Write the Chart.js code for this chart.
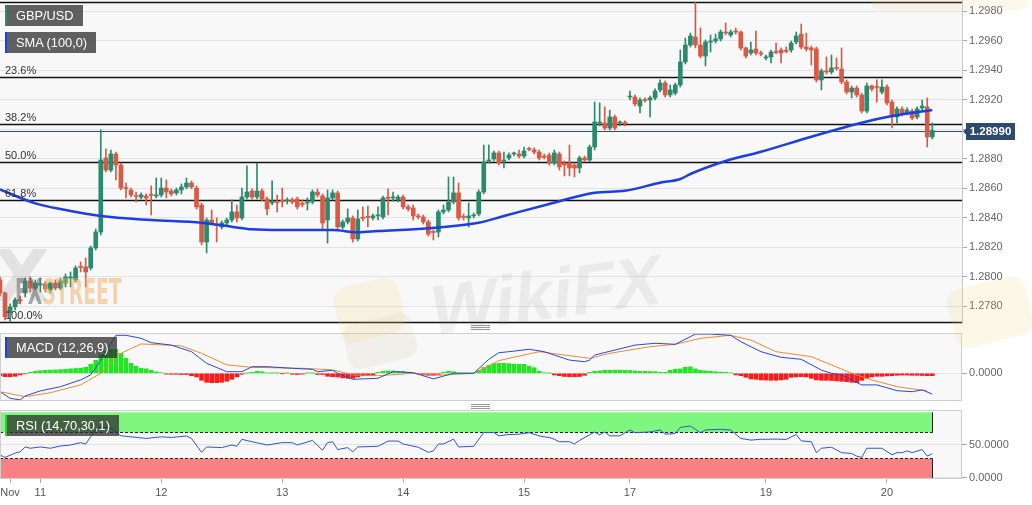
<!DOCTYPE html>
<html>
<head>
<meta charset="utf-8">
<script src="https://cdn.jsdelivr.net/npm/chart.js@4.4.1/dist/chart.umd.min.js"></script>
<style>
  html, body { margin: 0; padding: 0; background: #fff; }
  body { width: 1032px; height: 505px; position: relative; overflow: hidden; font-family: 'Liberation Sans', Arial, sans-serif; }
  .pane { position: absolute; left: 0; width: 1032px; }
  .tag { position: absolute; left: 5px; height: 21px; line-height: 21px; padding: 0 9px 0 9px; color: #fff; font-size: 12.8px;
         background: rgba(45,45,45,0.75); border-left: 2px solid; white-space: nowrap; }
  .grip { position: absolute; left: 471px; width: 19px; height: 5px;
          background: repeating-linear-gradient(#999 0 1px, transparent 1px 2px); }
  .wm { position: absolute; pointer-events: none; white-space: nowrap; }
</style>
</head>
<body>
<div class="pane" style="top:0;height:324px"><canvas id="main"></canvas></div>
<div class="pane" style="top:333px;height:68px"><canvas id="macd"></canvas></div>
<div class="pane" style="top:410px;height:95px"><canvas id="rsi"></canvas></div>

<div class="grip" style="top:325px"></div>
<div class="grip" style="top:404px"></div>

<!-- watermarks -->
<div class="wm" style="left:-6px;top:234px;font:bold 72px 'DejaVu Sans';color:rgba(140,140,140,0.2)">X</div>
<div class="wm" style="left:15px;top:271px;font:bold 36px 'DejaVu Sans Condensed';transform:scaleX(0.58);transform-origin:left top">
  <span style="color:rgba(100,100,100,0.55)">FX</span><span style="color:rgba(240,170,90,0.48)">STREET</span></div>
<div class="wm" style="left:336px;top:282px;width:66px;height:56px;border-radius:14px;background:rgba(240,205,110,0.16);transform:rotate(-14deg)"></div>
<div class="wm" style="left:428px;top:272px;font:bold 70px 'Liberation Sans';color:rgba(130,130,130,0.11);transform:rotate(-8deg) skewX(-12deg);transform-origin:left bottom">WikiFX</div>
<div class="wm" style="left:345px;top:318px;width:70px;height:46px;border-radius:12px;background:rgba(200,180,140,0.12);transform:rotate(-14deg)"></div>
<div class="wm" style="left:950px;top:282px;width:80px;height:60px;border-radius:14px;background:rgba(240,205,110,0.16);transform:rotate(-14deg)"></div>
<div class="wm" style="left:870px;top:-24px;width:160px;height:34px;border-radius:12px;background:rgba(240,205,110,0.14)"></div>

<div class="tag" style="top:5px;border-left-color:#2b8a6c">GBP/USD</div>
<div class="tag" style="top:32px;border-left-color:#1b3fe0">SMA (100,0)</div>
<div class="tag" style="top:337px;border-left-color:#1b3fe0">MACD (12,26,9)</div>
<div class="tag" style="top:415px;border-left-color:#33cc33">RSI (14,70,30,1)</div>

<script>
// ---- hourly GBP/USD candles, Nov 10 evening .. Nov 20 morning ----
const opens = [
  1.27977, 1.27889, 1.27753, 1.27794, 1.27841, 1.27889, 1.27970, 1.27922, 1.27943, 1.27950,
  1.27909, 1.27956, 1.27922, 1.27956, 1.27990, 1.27977, 1.28065, 1.28065, 1.28058, 1.28194,
  1.28302, 1.28804, 1.28722, 1.28831, 1.28756, 1.28600, 1.28587, 1.28546, 1.28539, 1.28546,
  1.28553, 1.28546, 1.28553, 1.28600, 1.28580, 1.28567, 1.28587, 1.28607, 1.28634, 1.28600,
  1.28485, 1.28234, 1.28383, 1.28350, 1.28336, 1.28363, 1.28383, 1.28438, 1.28397, 1.28539,
  1.28580, 1.28539, 1.28580, 1.28526, 1.28499, 1.28505, 1.28512, 1.28512, 1.28519, 1.28526,
  1.28492, 1.28499, 1.28505, 1.28573, 1.28546, 1.28383, 1.28533, 1.28567, 1.28336, 1.28370,
  1.28397, 1.28255, 1.28397, 1.28404, 1.28397, 1.28411, 1.28404, 1.28533, 1.28533, 1.28519,
  1.28539, 1.28472, 1.28465, 1.28411, 1.28404, 1.28370, 1.28302, 1.28302, 1.28438, 1.28451,
  1.28505, 1.28567, 1.28404, 1.28397, 1.28411, 1.28424, 1.28573, 1.28783, 1.28797, 1.28838,
  1.28783, 1.28804, 1.28831, 1.28831, 1.28817, 1.28865, 1.28858, 1.28844, 1.28811, 1.28824,
  1.28770, 1.28831, 1.28770, 1.28770, 1.28756, 1.28736, 1.28804, 1.28790, 1.28878, 1.29041,
  1.29041, 1.29007, 1.29082, 1.29041, 1.29041, 1.29217, 1.29217, 1.29156, 1.29197, 1.29197,
  1.29211, 1.29265, 1.29312, 1.29231, 1.29244, 1.29299, 1.29455, 1.29570, 1.29624, 1.29570,
  1.29495, 1.29590, 1.29597, 1.29611, 1.29658, 1.29638, 1.29665, 1.29658, 1.29550, 1.29516,
  1.29543, 1.29516, 1.29482, 1.29489, 1.29522, 1.29536, 1.29529, 1.29536, 1.29590, 1.29644,
  1.29556, 1.29550, 1.29543, 1.29333, 1.29394, 1.29387, 1.29414, 1.29407, 1.29319, 1.29251,
  1.29278, 1.29231, 1.29122, 1.29292, 1.29285, 1.29251, 1.29285, 1.29183, 1.29082, 1.29136,
  1.29109, 1.29122, 1.29082, 1.29143, 1.29150, 1.28946
];
const highs = [
  1.27997, 1.27895, 1.27814, 1.27855, 1.27868, 1.27990, 1.27997, 1.27977, 1.27990, 1.27963,
  1.27963, 1.27977, 1.27990, 1.28017, 1.28031, 1.28072, 1.28099, 1.28126, 1.28207, 1.28322,
  1.28994, 1.28865, 1.28858, 1.28844, 1.28770, 1.28634, 1.28600, 1.28573, 1.28567, 1.28560,
  1.28614, 1.28668, 1.28668, 1.28655, 1.28594, 1.28600, 1.28628, 1.28668, 1.28648, 1.28614,
  1.28499, 1.28397, 1.28451, 1.28397, 1.28377, 1.28397, 1.28519, 1.28485, 1.28600, 1.28750,
  1.28594, 1.28770, 1.28594, 1.28539, 1.28648, 1.28553, 1.28600, 1.28533, 1.28533, 1.28539,
  1.28519, 1.28533, 1.28587, 1.28594, 1.28560, 1.28587, 1.28587, 1.28580, 1.28383, 1.28458,
  1.28411, 1.28451, 1.28472, 1.28478, 1.28424, 1.28472, 1.28546, 1.28594, 1.28573, 1.28553,
  1.28553, 1.28485, 1.28485, 1.28424, 1.28417, 1.28383, 1.28316, 1.28451, 1.28485, 1.28675,
  1.28675, 1.28634, 1.28424, 1.28499, 1.28431, 1.28587, 1.28892, 1.28892, 1.28851, 1.28851,
  1.28844, 1.28838, 1.28844, 1.28858, 1.28878, 1.28878, 1.28872, 1.28858, 1.28831, 1.28838,
  1.28858, 1.28844, 1.28783, 1.28892, 1.28770, 1.28817, 1.28817, 1.28892, 1.29183, 1.29177,
  1.29150, 1.29129, 1.29095, 1.29055, 1.29055, 1.29258, 1.29231, 1.29211, 1.29211, 1.29224,
  1.29272, 1.29333, 1.29326, 1.29299, 1.29312, 1.29536, 1.29617, 1.29651, 1.29861, 1.29685,
  1.29604, 1.29638, 1.29644, 1.29672, 1.29719, 1.29672, 1.29685, 1.29665, 1.29556, 1.29590,
  1.29665, 1.29529, 1.29502, 1.29536, 1.29583, 1.29550, 1.29556, 1.29597, 1.29658, 1.29712,
  1.29651, 1.29563, 1.29556, 1.29407, 1.29489, 1.29502, 1.29482, 1.29550, 1.29333, 1.29292,
  1.29292, 1.29244, 1.29312, 1.29299, 1.29333, 1.29333, 1.29299, 1.29197, 1.29150, 1.29150,
  1.29143, 1.29136, 1.29150, 1.29197, 1.29211, 1.29041
];
const lows = [
  1.27868, 1.27705, 1.27692, 1.27773, 1.27814, 1.27861, 1.27895, 1.27909, 1.27895, 1.27895,
  1.27889, 1.27909, 1.27909, 1.27929, 1.27929, 1.27963, 1.28031, 1.27929, 1.28044, 1.28180,
  1.28282, 1.28709, 1.28709, 1.28655, 1.28587, 1.28533, 1.28539, 1.28505, 1.28526, 1.28485,
  1.28417, 1.28533, 1.28539, 1.28533, 1.28546, 1.28553, 1.28560, 1.28594, 1.28594, 1.28458,
  1.28214, 1.28160, 1.28350, 1.28234, 1.28322, 1.28350, 1.28370, 1.28370, 1.28383, 1.28526,
  1.28526, 1.28526, 1.28512, 1.28417, 1.28485, 1.28438, 1.28472, 1.28492, 1.28492, 1.28458,
  1.28472, 1.28451, 1.28492, 1.28539, 1.28322, 1.28227, 1.28519, 1.28322, 1.28322, 1.28356,
  1.28234, 1.28241, 1.28377, 1.28336, 1.28383, 1.28383, 1.28390, 1.28417, 1.28512, 1.28505,
  1.28458, 1.28444, 1.28383, 1.28390, 1.28356, 1.28275, 1.28248, 1.28268, 1.28424, 1.28438,
  1.28492, 1.28383, 1.28383, 1.28336, 1.28397, 1.28411, 1.28560, 1.28770, 1.28783, 1.28756,
  1.28736, 1.28790, 1.28817, 1.28804, 1.28804, 1.28851, 1.28831, 1.28790, 1.28797, 1.28756,
  1.28756, 1.28722, 1.28682, 1.28682, 1.28675, 1.28702, 1.28777, 1.28777, 1.28858, 1.29021,
  1.28994, 1.28994, 1.28994, 1.29021, 1.29021, 1.29197, 1.29156, 1.29109, 1.29183, 1.29082,
  1.29197, 1.29251, 1.29217, 1.29217, 1.29231, 1.29285, 1.29441, 1.29556, 1.29550, 1.29482,
  1.29428, 1.29522, 1.29583, 1.29597, 1.29638, 1.29624, 1.29644, 1.29536, 1.29482, 1.29502,
  1.29502, 1.29495, 1.29468, 1.29448, 1.29509, 1.29448, 1.29516, 1.29522, 1.29577, 1.29543,
  1.29529, 1.29434, 1.29319, 1.29265, 1.29373, 1.29373, 1.29400, 1.29306, 1.29238, 1.29211,
  1.29217, 1.29109, 1.29109, 1.29258, 1.29183, 1.29238, 1.29163, 1.29007, 1.29041, 1.29089,
  1.29095, 1.29061, 1.29068, 1.29129, 1.28878, 1.28933
];
const closes = [
  1.27889, 1.27726, 1.27794, 1.27841, 1.27836, 1.27970, 1.27922, 1.27956, 1.27947, 1.27916,
  1.27956, 1.27922, 1.27970, 1.27997, 1.27994, 1.28058, 1.28062, 1.28031, 1.28194, 1.28302,
  1.28790, 1.28722, 1.28831, 1.28756, 1.28600, 1.28596, 1.28553, 1.28543, 1.28553, 1.28533,
  1.28550, 1.28549, 1.28600, 1.28573, 1.28560, 1.28587, 1.28607, 1.28634, 1.28607, 1.28472,
  1.28234, 1.28383, 1.28363, 1.28346, 1.28363, 1.28383, 1.28438, 1.28397, 1.28539, 1.28573,
  1.28539, 1.28580, 1.28526, 1.28458, 1.28512, 1.28502, 1.28509, 1.28515, 1.28505, 1.28472,
  1.28489, 1.28502, 1.28573, 1.28553, 1.28363, 1.28533, 1.28567, 1.28336, 1.28370, 1.28397,
  1.28255, 1.28390, 1.28394, 1.28401, 1.28411, 1.28414, 1.28533, 1.28530, 1.28536, 1.28539,
  1.28472, 1.28458, 1.28411, 1.28404, 1.28370, 1.28288, 1.28299, 1.28438, 1.28451, 1.28505,
  1.28567, 1.28397, 1.28401, 1.28411, 1.28417, 1.28573, 1.28777, 1.28790, 1.28838, 1.28770,
  1.28786, 1.28824, 1.28834, 1.28817, 1.28851, 1.28862, 1.28844, 1.28804, 1.28808, 1.28770,
  1.28838, 1.28743, 1.28756, 1.28736, 1.28736, 1.28804, 1.28790, 1.28878, 1.29048, 1.29044,
  1.29007, 1.29082, 1.29007, 1.29044, 1.29038, 1.29220, 1.29170, 1.29197, 1.29194, 1.29211,
  1.29258, 1.29312, 1.29231, 1.29265, 1.29299, 1.29455, 1.29570, 1.29631, 1.29570, 1.29495,
  1.29590, 1.29593, 1.29611, 1.29658, 1.29651, 1.29658, 1.29658, 1.29550, 1.29495, 1.29536,
  1.29516, 1.29509, 1.29489, 1.29522, 1.29519, 1.29516, 1.29526, 1.29583, 1.29631, 1.29556,
  1.29543, 1.29536, 1.29333, 1.29394, 1.29387, 1.29414, 1.29411, 1.29319, 1.29251, 1.29278,
  1.29231, 1.29122, 1.29292, 1.29272, 1.29282, 1.29285, 1.29177, 1.29082, 1.29136, 1.29109,
  1.29129, 1.29075, 1.29136, 1.29156, 1.28946, 1.28990
];

// SMA(100) read at a few candle positions
const smaIdx = [0, 7, 13, 20, 30, 40, 46, 50, 56, 66, 71, 75, 85, 95, 100, 109, 118, 124, 131, 135, 137, 144, 151, 161, 171, 177, 181, 185];
const smaVal = [1.28591, 1.28496, 1.28451, 1.28410, 1.28383, 1.28365, 1.28338, 1.28320, 1.28315, 1.28315, 1.28300, 1.28308, 1.28327, 1.28365,
                1.28410, 1.28492, 1.28568, 1.28582, 1.28636, 1.28661, 1.28695, 1.28783, 1.28846, 1.28948, 1.29043, 1.29088, 1.29110, 1.29129];

// Fibonacci retracement levels
const fibLabels = ['0.0%', '23.6%', '38.2%', '50.0%', '61.8%', '100.0%'];
const fibPrices = [1.29861, 1.29353, 1.29034, 1.28776, 1.28519, 1.27692];
const lastPrice = 1.28990;
const priceTicks = [1.2780, 1.2800, 1.2820, 1.2840, 1.2860, 1.2880, 1.2900, 1.2920, 1.2940, 1.2960, 1.2980];

// MACD (12,26,9), values in pips (1e-4)
const macdIdx = [0, 2, 4, 5, 8, 12, 16, 18, 20, 22, 23, 25, 28, 30, 34, 38, 41, 45, 48, 50, 53, 58, 62, 63, 66, 67, 70, 75, 78, 82, 86,
                 90, 94, 97, 99, 101, 105, 108, 113, 116, 117, 118, 121, 126, 130, 134, 138, 141, 145, 147, 151, 155, 159, 163, 165, 167,
                 171, 174, 178, 181, 183, 185];
const macdVal = [-9.2, -12.5, -13.3, -11.3, -8.8, -6.7, -3.3, -0.8, 6.6, 15, 19, 19, 17.5, 15.3, 14.1, 10.8, 5, 0.8, 0.8, 3.3, 3.3, 2.5, 2,
                 0.8, 1.5, 0, -3, -2.5, 0.8, 0.3, -2.8, 0, 0, 7, 10.3, 10.8, 12, 10.8, 6.6, 5.8, 6.6, 9.1, 11, 14.1, 15, 14.5, 19.6, 19.6,
                 19, 15.8, 10.8, 8, 7, 1.6, 0, -0.8, -5.8, -5.8, -8.7, -9.2, -8.3, -10.4];
const signalIdx = [0, 5, 10, 16, 20, 24, 28, 36, 40, 45, 50, 60, 66, 70, 75, 82, 87, 94, 99, 101, 107, 117, 121, 129, 134, 139, 145, 149,
                   154, 161, 165, 169, 173, 178, 184];
const signalVal = [-9.2, -11.7, -9.7, -5.8, 0, 10, 14.7, 13.7, 10, 4.2, 3, 2.5, 1.7, -0.8, -1.2, 0, -1, 0, 6.3, 7.5, 10.8, 7.5, 10, 13.3,
                   14.5, 17.5, 19, 16.6, 10.8, 8.3, 4.2, 0, -3.3, -6.7, -8.8];
const histVal = [
  -1.2, -1.7, -1.7, -1.5, -0.8, -0.3, 0.5, 1.0, 1.3, 1.5,
  1.6, 1.7, 1.8, 2.0, 2.2, 2.4, 2.6, 3.0, 4.5, 6.5,
  9.5, 11.0, 12.0, 12.0, 10.0, 7.5, 5.0, 3.5, 2.5, 2.2,
  1.5, 0.7, 0.3, -0.4, -0.5, -0.5, -0.6, -0.6, -1.2, -1.8,
  -3.5, -4.5, -4.7, -4.7, -4.5, -4.0, -3.0, -1.8, -0.5, 0.1,
  0.5, 1.0, 0.8, 0.2, 0.1, 0.1, -0.1, 0.1, -0.5, -0.6,
  -0.4, 0.1, 0.1, -0.6, -0.6, -1.5, -1.7, -1.8, -2.3, -2.5,
  -2.5, -1.8, -1.2, -1.2, -1.0, 0.5, 1.0, 1.2, 1.2, 1.0,
  1.0, 0.6, 0.1, -0.2, -0.8, -1.0, -1.0, -0.5, 0.6, 1.0,
  0.8, 0.2, 0.1, 0.1, 0.2, 1.5, 3.0, 4.0, 4.8, 5.0,
  5.0, 4.8, 4.6, 4.5, 4.5, 3.5, 2.8, 1.0, 0.3, 0.1,
  -0.8, -1.2, -1.6, -1.7, -1.7, -1.6, -1.0, 0.5, 1.0, 1.2,
  1.5, 1.5, 1.6, 1.6, 1.5, 1.4, 1.2, 1.0, 1.0, 0.9,
  0.8, 0.5, 0.5, 1.5, 2.0, 2.2, 3.0, 3.2, 2.2, 1.5,
  1.2, 1.0, 0.8, 0.6, 0.5, 0.3, -0.8, -1.2, -2.0, -2.8,
  -3.0, -3.3, -3.4, -3.5, -3.5, -3.3, -3.0, -2.0, -1.8, -1.7,
  -1.8, -2.5, -3.3, -3.5, -3.5, -3.6, -3.8, -4.0, -4.2, -4.5,
  -4.7, -3.5, -2.5, -1.8, -1.5, -1.5, -1.3, -1.2, -1.0, -0.9,
  -0.9, -1.0, -1.0, -1.1, -1.2, -1.2
];

// RSI (14)
const rsiIdx = [0, 1, 3, 4, 5, 6, 8, 10, 12, 14, 16, 17, 18, 19, 20, 22, 24, 26, 29, 32, 34, 37, 38, 40, 41, 44, 46, 47, 48, 50,
                53, 56, 58, 59, 62, 64, 65, 66, 67, 69, 70, 71, 75, 77, 79, 80, 83, 85, 86, 87, 88, 90, 91, 94, 96, 98, 99, 101, 103, 105,
                107, 108, 109, 110, 111, 113, 114, 115, 118, 119, 120, 121, 123, 125, 126, 129, 131, 132, 134, 135, 137, 139, 140, 143, 145,
                147, 149, 151, 154, 156, 158, 159, 161, 162, 163, 165, 167, 169, 170, 171, 172, 175, 177, 178, 179, 180, 181, 183, 184, 185];
const rsiVal = [34.7, 31, 37.6, 39.7, 47, 45, 47, 45, 48.5, 50, 53.6, 51.5, 62.7, 73, 78, 75.7, 64, 62.5, 60, 62.5,
                61.5, 63.7, 60, 38.8, 47, 46, 50, 48, 58.7, 55, 50, 53.6, 53.6, 50, 57, 42, 53.6, 55, 43, 46,
                39.5, 47, 48, 56, 56, 51.5, 46.6, 38.8, 41, 51.5, 51.5, 59, 47, 48, 69, 69, 64, 66, 66.5, 68.8,
                64, 62.5, 61.5, 58.8, 55, 55, 51.5, 57, 69.9, 65.5, 69.9, 64, 64, 73, 68.8, 70, 73, 66.5, 67.6, 77,
                79, 68.8, 73, 74, 73, 60, 57.5, 58.7, 59, 58.5, 66, 56.3, 55, 38.3, 45, 46.6, 38.3, 37, 33, 31,
                45, 45, 35, 38.3, 38.3, 41, 38.3, 43, 33, 36.5];
const rsiUpper = 70, rsiLower = 30;

// day ticks on the time axis
const dayTickIdx = [2, 8, 32, 56, 80, 104, 125, 152, 176];
const dayTickLabels = ['Nov', '11', '12', '13', '14', '15', '17', '19', '20'];

const X_MIN = 0, X_MAX = 190.9;
const UP = '#2b8a6c', DOWN = '#d85a45';
const PANEL_BG = '#f8f8f8';

Chart.defaults.font.family = "'Liberation Sans', Arial, sans-serif";
Chart.defaults.font.size = 11;
Chart.defaults.color = '#666';
Chart.defaults.animation = false;

function rightAxis(min, max, ticks, fmt) {
    return {
        position: 'right', min: min, max: max,
        afterBuildTicks: s => { s.ticks = ticks.map(v => ({ value: v })); },
        afterFit: s => { s.width = 70; s.paddingTop = 0; s.paddingBottom = 0; },
        ticks: { padding: 2, color: '#666', font: { size: 11 }, callback: fmt },
        grid: { color: '#e2e2e2', tickColor: '#aaa', tickLength: 5 },
        border: { display: false }
    };
}

function hiddenX() {
    return { type: 'linear', min: X_MIN, max: X_MAX, display: false, offset: false, grid: { offset: false } };
}

function panelBox(ctx, a) {
    ctx.save();
    ctx.strokeStyle = '#cfcfcf';
    ctx.lineWidth = 1;
    ctx.strokeRect(a.left + 0.5, a.top + 0.5, a.right - a.left - 1, a.bottom - a.top - 1);
    ctx.restore();
}

const fillBg = {
    id: 'fillBg',
    beforeDraw(chart) {
        const { ctx, chartArea: a } = chart;
        ctx.save();
        ctx.fillStyle = PANEL_BG;
        ctx.fillRect(a.left, a.top, a.right - a.left, a.bottom - a.top);
        ctx.restore();
    }
};

const candleColor = c => closes[c.dataIndex] >= opens[c.dataIndex] ? UP : DOWN;
const candleIdx = opens.map((_, i) => i);

const mainDecor = {
    id: 'mainDecor',
    beforeDatasetsDraw(chart) {
        const { ctx, chartArea: a, scales: { y } } = chart;
        ctx.save();
        // price axis line
        ctx.strokeStyle = '#c8c8c8';
        ctx.beginPath(); ctx.moveTo(a.right + 0.5, a.top); ctx.lineTo(a.right + 0.5, a.bottom); ctx.stroke();
        // last price line
        const ly = Math.round(y.getPixelForValue(lastPrice)) + 0.5;
        ctx.strokeStyle = '#2d4a72';
        ctx.lineWidth = 1;
        ctx.beginPath(); ctx.moveTo(a.left, ly); ctx.lineTo(a.right, ly); ctx.stroke();
        // fibonacci lines
        ctx.strokeStyle = '#111';
        ctx.lineWidth = 1.3;
        fibPrices.forEach(p => {
            const py = Math.round(y.getPixelForValue(p)) + 0.5;
            ctx.beginPath(); ctx.moveTo(a.left, py); ctx.lineTo(a.right, py); ctx.stroke();
        });
        ctx.restore();
    },
    afterDatasetsDraw(chart) {
        const { ctx, chartArea: a, scales: { y } } = chart;
        ctx.save();
        ctx.font = "11px 'Liberation Sans', Arial, sans-serif";
        ctx.fillStyle = '#333';
        ctx.textBaseline = 'bottom';
        fibPrices.forEach((p, k) => {
            ctx.fillText(fibLabels[k], a.left + 5, Math.round(y.getPixelForValue(p)) - 1);
        });
        ctx.restore();
    },
    afterDraw(chart) {
        const { ctx, chartArea: a, scales: { y } } = chart;
        const ly = Math.round(y.getPixelForValue(lastPrice));
        ctx.save();
        ctx.fillStyle = '#2f4a6f';
        ctx.fillRect(a.right + 4, ly - 8, 49, 17);
        ctx.beginPath();
        ctx.moveTo(a.right + 1, ly + 0.5); ctx.lineTo(a.right + 5, ly - 3.5); ctx.lineTo(a.right + 5, ly + 4.5);
        ctx.closePath(); ctx.fill();
        ctx.fillStyle = '#fff';
        ctx.font = "bold 11.5px 'Liberation Sans', Arial, sans-serif";
        ctx.textAlign = 'center';
        ctx.textBaseline = 'middle';
        ctx.fillText(lastPrice.toFixed(5), a.right + 28.5, ly + 1);
        ctx.restore();
    }
};

new Chart(document.getElementById('main'), {
    type: 'bar',
    data: {
        datasets: [
            {
                type: 'line', label: 'SMA (100,0)', order: 0,
                data: smaIdx.map((x, k) => ({ x: x, y: smaVal[k] })),
                borderColor: '#1b3fe0', borderWidth: 2.5, pointRadius: 0, cubicInterpolationMode: 'monotone'
            },
            {
                label: 'body', order: 1, grouped: false,
                data: candleIdx.map(i => ({ x: i, y: [opens[i], closes[i]] })),
                backgroundColor: candleColor, barThickness: 4, minBarLength: 1
            },
            {
                label: 'wick', order: 2, grouped: false,
                data: candleIdx.map(i => ({ x: i, y: [lows[i], highs[i]] })),
                backgroundColor: candleColor, barThickness: 1
            }
        ]
    },
    options: {
        responsive: true, maintainAspectRatio: false, events: [],
        layout: { padding: 0 },
        plugins: { legend: { display: false }, tooltip: { enabled: false } },
        scales: {
            x: hiddenX(),
            y: rightAxis(1.27678, 1.29875, priceTicks, v => v.toFixed(4))
        }
    },
    plugins: [fillBg, mainDecor]
});

const macdDecor = {
    id: 'macdDecor',
    afterDraw(chart) { panelBox(chart.ctx, chart.chartArea); }
};

new Chart(document.getElementById('macd'), {
    type: 'bar',
    data: {
        datasets: [
            {
                type: 'line', label: 'MACD', order: 0,
                data: macdIdx.map((x, k) => ({ x: x, y: macdVal[k] })),
                borderColor: '#2a48d8', borderWidth: 1, pointRadius: 0
            },
            {
                type: 'line', label: 'Signal', order: 1,
                data: signalIdx.map((x, k) => ({ x: x, y: signalVal[k] })),
                borderColor: '#f08a34', borderWidth: 1, pointRadius: 0
            },
            {
                label: 'Histogram', order: 2, grouped: false,
                data: histVal.map((v, i) => ({ x: i, y: v })),
                backgroundColor: c => histVal[c.dataIndex] >= 0 ? '#22e622' : '#ff1a1a',
                barThickness: 4
            }
        ]
    },
    options: {
        responsive: true, maintainAspectRatio: false, events: [],
        layout: { padding: 0 },
        plugins: { legend: { display: false }, tooltip: { enabled: false } },
        scales: {
            x: hiddenX(),
            y: rightAxis(-13.85, 20.15, [0], v => (v / 10000).toFixed(4))
        }
    },
    plugins: [fillBg, macdDecor]
});

const rsiDecor = {
    id: 'rsiDecor',
    beforeDatasetsDraw(chart) {
        const { ctx, chartArea: a, scales: { x, y } } = chart;
        const xr = Math.round(x.getPixelForValue(opens.length - 1)) + 0.5;
        const y100 = y.getPixelForValue(100), y70 = Math.round(y.getPixelForValue(rsiUpper)) + 0.5;
        const y30 = Math.round(y.getPixelForValue(rsiLower)) + 0.5;
        ctx.save();
        ctx.fillStyle = '#7ff77f';
        ctx.fillRect(a.left, y100, xr - a.left, y70 - y100);
        ctx.fillStyle = '#f98181';
        ctx.fillRect(a.left, y30, xr - a.left, a.bottom - y30);
        ctx.strokeStyle = '#222';
        ctx.lineWidth = 1;
        ctx.setLineDash([3, 2]);
        ctx.beginPath(); ctx.moveTo(a.left, y70); ctx.lineTo(xr, y70); ctx.stroke();
        ctx.beginPath(); ctx.moveTo(a.left, y30); ctx.lineTo(xr, y30); ctx.stroke();
        ctx.setLineDash([]);
        ctx.beginPath(); ctx.moveTo(xr, y100); ctx.lineTo(xr, y70); ctx.stroke();
        ctx.beginPath(); ctx.moveTo(xr, y30); ctx.lineTo(xr, a.bottom); ctx.stroke();
        ctx.restore();
    },
    afterDraw(chart) { panelBox(chart.ctx, chart.chartArea); }
};

new Chart(document.getElementById('rsi'), {
    type: 'line',
    data: {
        datasets: [{
            label: 'RSI', data: rsiIdx.map((x, k) => ({ x: x, y: rsiVal[k] })),
            borderColor: '#2f55d4', borderWidth: 1, pointRadius: 0
        }]
    },
    options: {
        responsive: true, maintainAspectRatio: false, events: [],
        layout: { padding: 0 },
        plugins: { legend: { display: false }, tooltip: { enabled: false } },
        scales: {
            x: {
                type: 'linear', min: X_MIN, max: X_MAX, offset: false,
                afterBuildTicks: s => { s.ticks = dayTickIdx.map(v => ({ value: v })); },
                afterFit: s => { s.height = 26; s.paddingLeft = 0; s.paddingRight = 0; },
                ticks: {
                    autoSkip: false, maxRotation: 0, padding: 3, color: '#555', font: { size: 11 },
                    callback: v => { const k = dayTickIdx.indexOf(v); return k >= 0 ? dayTickLabels[k] : ''; }
                },
                grid: { drawOnChartArea: false, offset: false, tickLength: 4, tickColor: '#aaa' },
                border: { display: false }
            },
            y: rightAxis(-2, 103.5, [0, 50], v => v.toFixed(4))
        }
    },
    plugins: [fillBg, rsiDecor]
});
</script>
</body>
</html>
